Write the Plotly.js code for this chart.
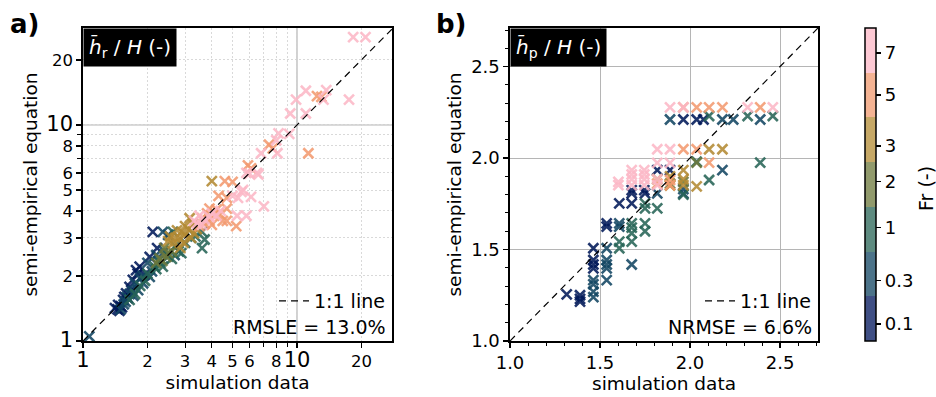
<!DOCTYPE html>
<html>
<head>
<meta charset="utf-8">
<script src="https://cdn.plot.ly/plotly-3.0.1.min.js"></script>
<style>html,body{margin:0;padding:0;background:#fff}</style>
</head>
<body>
<div id="chart" style="width:936px;height:397px"></div>
<script>
// Froude number classes shown on the colour bar
const frLevels = [0.1, 0.3, 1, 2, 3, 5, 7];
const frTickPos = [0.38, 1.36, 2.53, 3.56, 4.36, 5.5, 6.44];
const frTickText = ['0.1', '0.3', '1', '2', '3', '5', '7'];
const markerColors = ['#011959', '#124662', '#276456', '#6b783c', '#b38a33', '#f29a6f', '#fcb7c6'];
const barColors = ['#3f4f84', '#4c7389', '#5e8b80', '#919a6c', '#c6a866', '#f4b393', '#fdc9d4'];

// Panel a: mean h_r / H (log-log)
const aSim = [
  1.45,1.41,1.46,1.50,1.54,1.56,1.59,1.62,1.65,1.71,1.77,1.84,1.94,2.05,2.12,2.22,1.48,1.52,1.68,1.80,
  1.07,1.50,1.55,1.58,1.60,1.65,1.70,1.72,1.75,1.81,1.85,1.90,1.91,2.00,2.05,2.10,2.20,2.25,2.36,2.40,2.68,2.50,
  1.65,1.75,1.85,1.95,2.00,2.16,2.20,2.30,2.36,2.50,2.60,2.63,2.70,2.80,2.88,3.00,3.20,3.35,3.60,3.70,3.60,
  2.20,2.28,2.35,2.45,2.50,2.60,2.40,
  4.00,3.15,3.26,2.63,2.83,2.90,3.00,2.70,2.75,3.10,2.95,2.55,3.40,3.20,2.85,2.50,3.00,3.30,
  12.4,13.0,7.4,7.7,11.3,5.9,6.1,4.6,5.0,4.3,4.7,3.9,4.7,4.7,5.2,3.5,3.7,4.0,3.8,4.1,4.3,3.6,4.2,4.5,3.9,
  18.3,20.9,9.9,11.0,13.7,13.3,17.5,9.3,11.0,8.2,9.2,8.0,6.8,8.1,5.8,6.5,5.6,6.1,5.3,7.0,5.25,5.8,3.3,3.5,3.7,3.4,4.2,4.4,3.9,3.6,4.0,5.5,5.0,6.6,6.0
];
const aEq = [
  1.40,1.42,1.47,1.45,1.55,1.60,1.66,1.58,1.78,1.92,2.13,2.21,2.02,2.45,3.20,2.69,1.38,1.43,1.72,2.05,
  1.05,1.40,1.48,1.52,1.60,1.65,1.70,1.62,1.85,1.72,1.95,2.00,1.85,2.30,1.98,2.10,2.50,2.35,3.20,2.60,2.50,3.10,
  1.55,1.65,1.80,1.90,2.05,2.21,2.15,2.30,2.21,2.46,2.40,3.20,2.75,2.60,2.55,2.85,3.00,3.05,3.20,2.95,2.69,
  2.30,2.41,2.35,2.45,2.55,2.60,2.70,
  5.50,3.70,3.50,2.83,2.99,3.20,3.10,3.00,3.25,3.30,2.85,3.05,3.30,3.00,2.70,2.90,3.40,3.15,
  13.6,13.5,8.1,7.8,7.4,6.5,6.3,5.5,5.45,4.7,4.6,4.1,4.1,3.6,3.4,3.4,3.5,3.45,3.9,3.8,3.9,3.7,4.05,3.6,3.6,
  25.5,25.5,13.1,14.4,14.5,13.1,13.1,11.3,11.3,9.15,9.1,8.5,7.4,7.4,6.0,6.0,5.0,4.65,4.6,4.2,3.8,3.8,3.6,3.8,3.65,3.5,3.8,4.0,3.75,3.45,3.9,4.9,4.7,5.9,5.95
];
const aFrCount = [20, 22, 21, 7, 18, 25, 35];

// Panel b: mean h_p / H (linear)
const bSim = [
  1.315,1.389,1.389,1.389,1.463,1.463,1.463,1.463,1.537,1.537,1.607,1.676,1.676,1.750,1.676,1.746,1.818,1.889,1.963,2.037,2.075,
  1.463,1.463,1.463,1.463,1.537,1.537,1.537,1.537,1.537,1.607,1.607,1.676,1.818,1.963,1.889,2.180,2.240,2.390,2.180,1.963,
  1.607,1.607,1.676,1.676,1.676,1.676,1.750,1.750,1.750,1.750,1.818,2.037,2.106,2.106,2.320,2.460,2.390,1.963,
  1.889,1.963,2.037,
  1.889,1.963,1.963,1.963,2.037,2.106,2.180,1.818,1.889,
  1.963,2.037,2.037,2.106,2.180,2.390,2.106,1.889,1.889,1.818,1.963,
  1.889,1.963,2.320,2.460,1.818,1.889,1.818,1.889,1.602,1.602,1.676,1.676,1.676,1.676,1.746,1.746,1.746,1.746,1.818,1.818
];
const bEq = [
  1.255,1.250,1.230,1.215,1.507,1.443,1.418,1.397,1.643,1.625,1.752,1.807,1.752,1.807,1.825,1.825,1.934,1.934,2.211,2.211,2.211,
  1.333,1.310,1.270,1.240,1.507,1.443,1.418,1.397,1.333,1.643,1.625,1.418,1.807,1.830,2.211,2.211,2.211,2.211,1.934,1.807,
  1.543,1.507,1.643,1.589,1.543,1.620,1.643,1.600,1.725,1.752,1.725,1.980,1.880,2.230,2.230,2.230,1.975,1.800,
  1.860,1.870,1.975,
  1.850,1.934,1.884,1.852,1.845,2.048,2.048,1.884,1.900,
  2.048,2.048,2.277,2.277,2.277,2.277,1.975,1.880,1.852,1.860,2.277,
  2.277,2.277,2.277,2.277,2.048,2.048,1.974,1.974,1.852,1.870,1.934,1.910,1.884,1.852,1.934,1.910,1.884,1.852,1.884,1.852
];
const bFrCount = [21, 20, 18, 3, 9, 11, 20];

const aTickVals = [1, 2, 3, 4, 5, 6, 8, 10, 20];
const aTickText = ['1', '2', '3', '4', '5', '6', '8', '10', '20'];
const aMinorVals = [7, 9];
const bigTicks = ['1', '10'];
const scoreA = 'RMSLE = 13.0%';
const scoreB = 'NRMSE = 6.6%';

// ---------- build ----------
function expandFr(counts) {
  const out = [];
  counts.forEach((n, k) => { for (let i = 0; i < n; i++) out.push(frLevels[k]); });
  return out;
}
const aFr = expandFr(aFrCount);
const bFr = expandFr(bFrCount);
const colorIndex = fr => frLevels.indexOf(fr) + 0.5;

function discreteScale(cols) {
  const n = cols.length, s = [];
  cols.forEach((c, i) => { s.push([i / n, c]); s.push([(i + 1) / n, c]); });
  return s;
}
const ticktextA = aTickText.map(t => bigTicks.includes(t) ? '<span style="font-size:21px">' + t + '</span>' : t);

function scatter(xs, ys, frs, xa, ya) {
  return {
    type: 'scatter', mode: 'markers', x: xs, y: ys, xaxis: xa, yaxis: ya,
    showlegend: false, hoverinfo: 'skip',
    marker: {
      symbol: 'x-thin-open', size: 10, opacity: 0.88,
      color: frs.map(colorIndex), colorscale: discreteScale(markerColors), cmin: 0, cmax: 7,
      showscale: false, line: { width: 2.6 }
    }
  };
}

const lineA = [1, 28], lineB = [1, 2.72];
const traces = [
  scatter(aSim, aEq, aFr, 'x', 'y'),
  scatter(bSim, bEq, bFr, 'x2', 'y2'),
  { type: 'scatter', mode: 'lines', x: lineA, y: lineA, xaxis: 'x', yaxis: 'y', name: '1:1 line',
    line: { color: 'black', width: 1.2, dash: '7px,5px' }, legend: 'legend', hoverinfo: 'skip' },
  { type: 'scatter', mode: 'lines', x: lineB, y: lineB, xaxis: 'x2', yaxis: 'y2', name: '1:1 line',
    line: { color: 'black', width: 1.2, dash: '7px,5px' }, legend: 'legend2', hoverinfo: 'skip' },
  { type: 'scatter', mode: 'markers', x: [2.5], y: [1.1], xaxis: 'x2', yaxis: 'y2', showlegend: false, hoverinfo: 'skip',
    marker: { color: [3.5], opacity: 0, size: 1, colorscale: discreteScale(barColors), cmin: 0, cmax: 7, showscale: true,
      colorbar: { x: 865 / 936, xanchor: 'left', xpad: 0, y: 56 / 397, yanchor: 'bottom', ypad: 0,
        len: 313 / 397, lenmode: 'fraction', thickness: 11, outlinewidth: 1.5, outlinecolor: 'black',
        tickmode: 'array', tickvals: frTickPos, ticktext: frTickText, ticks: 'outside', ticklen: 5, tickwidth: 1.2,
        tickcolor: 'black', tickfont: { size: 18, color: 'black' } } } }
];

const axCommon = {
  showline: true, mirror: true, linecolor: 'black', linewidth: 1.6, ticks: 'outside', ticklen: 5, tickwidth: 1.2,
  tickcolor: 'black', zeroline: false, automargin: false, tickangle: 0
};
const minorA = { tickmode: 'array', tickvals: aMinorVals, ticks: 'outside', ticklen: 4, tickwidth: 1, tickcolor: 'black',
  showgrid: true, gridcolor: '#cfcfcf', gridwidth: 0.8, griddash: '2px,2px' };
const minorB = { tickmode: 'linear', tick0: 1, dtick: 0.1, ticks: 'outside', ticklen: 3.5, tickcolor: 'black', tickwidth: 1, showgrid: false };
const yDom = [56 / 397, 369 / 397];
const layout = {
  width: 936, height: 397, margin: { l: 0, r: 0, t: 0, b: 0, autoexpand: false },
  paper_bgcolor: 'white', plot_bgcolor: 'white',
  font: { family: 'DejaVu Sans', size: 16, color: 'black' },
  xaxis: Object.assign({}, axCommon, { domain: [83 / 936, 392 / 936], type: 'log', range: [0, 1.444], anchor: 'y',
    tickmode: 'array', tickvals: aTickVals, ticktext: ticktextA, tickfont: { size: 16.5 },
    showgrid: true, gridcolor: '#cfcfcf', gridwidth: 0.8, griddash: '2px,2px', minor: minorA,
    title: { text: 'simulation data', font: { size: 18.5 }, standoff: 2 } }),
  yaxis: Object.assign({}, axCommon, { domain: yDom, type: 'log', range: [0, 1.449], anchor: 'x',
    tickmode: 'array', tickvals: aTickVals, ticktext: ticktextA, tickfont: { size: 16.5 },
    showgrid: true, gridcolor: '#cfcfcf', gridwidth: 0.8, griddash: '2px,2px', minor: minorA,
    title: { text: 'semi-empirical equation', font: { size: 18.5 }, standoff: 4 } }),
  xaxis2: Object.assign({}, axCommon, { domain: [510 / 936, 818 / 936], range: [1, 2.711], anchor: 'y2',
    tickmode: 'linear', tick0: 1, dtick: 0.5, tickformat: '.1f', tickfont: { size: 18 },
    showgrid: true, gridcolor: '#b5b5b5', gridwidth: 1, minor: minorB,
    title: { text: 'simulation data', font: { size: 18.5 }, standoff: 2 } }),
  yaxis2: Object.assign({}, axCommon, { domain: yDom, range: [1, 2.711], anchor: 'x2',
    tickmode: 'linear', tick0: 1, dtick: 0.5, tickformat: '.1f', tickfont: { size: 18 },
    showgrid: true, gridcolor: '#b5b5b5', gridwidth: 1, minor: minorB,
    title: { text: 'semi-empirical equation', font: { size: 18.5 }, standoff: 4 } }),
  shapes: [
    { type: 'line', layer: 'below', xref: 'x', yref: 'paper', x0: 10, x1: 10, y0: yDom[0], y1: yDom[1], line: { color: '#b5b5b5', width: 1.2 } },
    { type: 'line', layer: 'below', xref: 'paper', yref: 'y', x0: 83 / 936, x1: 392 / 936, y0: 10, y1: 10, line: { color: '#b5b5b5', width: 1.2 } }
  ],
  legend: { x: 390 / 936, xanchor: 'right', y: 96 / 397, yanchor: 'middle', bgcolor: 'rgba(0,0,0,0)', font: { size: 19 }, itemwidth: 30 },
  legend2: { x: 816 / 936, xanchor: 'right', y: 96 / 397, yanchor: 'middle', bgcolor: 'rgba(0,0,0,0)', font: { size: 19 }, itemwidth: 30 },
  annotations: [
    { text: '<b>a)</b>', xref: 'paper', yref: 'paper', x: 8 / 936, y: 373 / 397, xanchor: 'left', yanchor: 'middle', showarrow: false, font: { size: 26 } },
    { text: '<b>b)</b>', xref: 'paper', yref: 'paper', x: 434 / 936, y: 373 / 397, xanchor: 'left', yanchor: 'middle', showarrow: false, font: { size: 26 } },
    { text: '<i>h\u0304</i><sub>r</sub> / <i>H</i> (-)', xref: 'paper', yref: 'paper', x: 83 / 936, y: 369 / 397, xanchor: 'left', yanchor: 'top',
      showarrow: false, bgcolor: 'black', font: { size: 20, color: 'white' }, borderpad: 5 },
    { text: '<i>h\u0304</i><sub>p</sub> / <i>H</i> (-)', xref: 'paper', yref: 'paper', x: 510 / 936, y: 369 / 397, xanchor: 'left', yanchor: 'top',
      showarrow: false, bgcolor: 'black', font: { size: 20, color: 'white' }, borderpad: 5 },
    { text: scoreA, xref: 'paper', yref: 'paper', x: 388 / 936, y: 70 / 397, xanchor: 'right', yanchor: 'middle', showarrow: false, font: { size: 19 } },
    { text: scoreB, xref: 'paper', yref: 'paper', x: 814 / 936, y: 70 / 397, xanchor: 'right', yanchor: 'middle', showarrow: false, font: { size: 19 } },
    { text: 'Fr (-)', xref: 'paper', yref: 'paper', x: 926 / 936, y: 208 / 397, xanchor: 'center', yanchor: 'middle', textangle: -90, showarrow: false, font: { size: 19 } }
  ]
};

Plotly.newPlot('chart', traces, layout, { staticPlot: true, displayModeBar: false });
</script>
</body>
</html>
